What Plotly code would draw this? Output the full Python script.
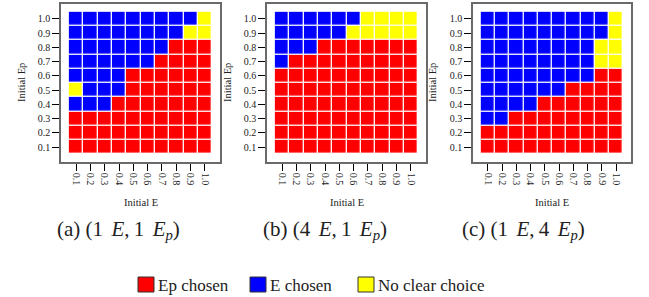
import plotly.graph_objects as go

W, H = 649, 297

e_values = [0.1, 0.2, 0.3, 0.4, 0.5, 0.6, 0.7, 0.8, 0.9, 1.0]
ep_values = [0.1, 0.2, 0.3, 0.4, 0.5, 0.6, 0.7, 0.8, 0.9, 1.0]
tick_labels = ["0.1", "0.2", "0.3", "0.4", "0.5", "0.6", "0.7", "0.8", "0.9", "1.0"]

# codes: R = Ep chosen, B = E chosen, Y = no clear choice ; rows listed from Ep=1.0 down to Ep=0.1
grid_a = [
    "BBBBBBBBBY",
    "BBBBBBBBYY",
    "BBBBBBBRRR",
    "BBBBBBRRRR",
    "BBBBRRRRRR",
    "YBBBRRRRRR",
    "BBBRRRRRRR",
    "RRRRRRRRRR",
    "RRRRRRRRRR",
    "RRRRRRRRRR",
]
grid_b = [
    "BBBBBBYYYY",
    "BBBBBYYYYY",
    "BBBRRRRRRR",
    "BRRRRRRRRR",
    "RRRRRRRRRR",
    "RRRRRRRRRR",
    "RRRRRRRRRR",
    "RRRRRRRRRR",
    "RRRRRRRRRR",
    "RRRRRRRRRR",
]
grid_c = [
    "BBBBBBBBBY",
    "BBBBBBBBBY",
    "BBBBBBBBYY",
    "BBBBBBBBYY",
    "BBBBBBBBRR",
    "BBBBBBRRRR",
    "BBBBRRRRRR",
    "BBRRRRRRRR",
    "RRRRRRRRRR",
    "RRRRRRRRRR",
]
captions = ["(a) (1\u2009\u2009<i>E</i>,\u20091\u2009\u2009<i>E<sub>p</sub></i>)",
            "(b) (4\u2009\u2009<i>E</i>,\u20091\u2009\u2009<i>E<sub>p</sub></i>)",
            "(c) (1\u2009\u2009<i>E</i>,\u20094\u2009\u2009<i>E<sub>p</sub></i>)"]
legend_labels = ["Ep chosen", "E chosen", "No clear choice"]
legend_colors = ["#FF0000", "#0000FF", "#FFFF00"]

code = {"R": 0, "B": 1, "Y": 2}
colorscale = [[0, "#FF0000"], [1/3, "#FF0000"], [1/3, "#0000FF"], [2/3, "#0000FF"],
              [2/3, "#FFFF00"], [1, "#FFFF00"]]

# pixel layout
frames_x = [(61, 220), (267, 426), (473, 631)]
frame_top, frame_bot = 4, 162
ytitle_x = [22, 228, 433]
caption_x = [118, 325, 523]

def px(x):
    return x / W

def py(y):
    return 1 - y / H

fig = go.Figure()
font_serif = "Liberation Serif"

for i, grid in enumerate([grid_a, grid_b, grid_c]):
    z = [[code[c] for c in row] for row in reversed(grid)]
    xa = "x" if i == 0 else f"x{i+1}"
    ya = "y" if i == 0 else f"y{i+1}"
    fig.add_trace(go.Heatmap(
        x=e_values, y=ep_values, z=z, xaxis=xa, yaxis=ya,
        colorscale=colorscale, zmin=0, zmax=2, showscale=False,
        xgap=1.3, ygap=1.3, hoverinfo="skip"))
    axcommon = dict(range=[-0.005, 1.105], tickvals=e_values, ticktext=tick_labels,
                    showgrid=False, zeroline=False, showline=True, mirror=True,
                    linecolor="#6a6a6a", linewidth=1.6, ticks="outside", ticklen=7,
                    tickcolor="black", tickwidth=1,
                    tickfont=dict(family=font_serif, size=10, color="#222"))
    x0, x1 = frames_x[i]
    xname = "xaxis" if i == 0 else f"xaxis{i+1}"
    yname = "yaxis" if i == 0 else f"yaxis{i+1}"
    fig.layout[xname] = dict(axcommon, domain=[px(x0), px(x1)], anchor=ya, tickangle=90)
    fig.layout[yname] = dict(axcommon, domain=[py(frame_bot), py(frame_top)], anchor=xa)
    # axis titles
    fig.add_annotation(x=px((x0 + x1) / 2), y=py(202), xref="paper", yref="paper",
                       text="Initial E", showarrow=False, xanchor="center", yanchor="middle",
                       font=dict(family=font_serif, size=10.5, color="#222"))
    fig.add_annotation(x=px(ytitle_x[i]), y=py((frame_top + frame_bot) / 2), xref="paper", yref="paper",
                       text="Initial Ep", showarrow=False, textangle=-90,
                       xanchor="center", yanchor="middle",
                       font=dict(family=font_serif, size=10.5, color="#222"))
    fig.add_annotation(x=px(caption_x[i]), y=py(230), xref="paper", yref="paper",
                       text=captions[i], showarrow=False, xanchor="center", yanchor="middle",
                       font=dict(family=font_serif, size=21, color="#222"))

# legend
box_x = [138, 250, 358]
for bx, lab, col in zip(box_x, legend_labels, legend_colors):
    fig.add_shape(type="rect", xref="paper", yref="paper",
                  x0=px(bx), x1=px(bx + 16), y0=py(292), y1=py(277),
                  fillcolor=col, line=dict(color="#333", width=1))
    fig.add_annotation(x=px(bx + 18), y=py(285), xref="paper", yref="paper",
                       text=lab, showarrow=False, xanchor="left", yanchor="middle",
                       font=dict(family=font_serif, size=17, color="#222"))

fig.update_layout(width=W, height=H, margin=dict(l=0, r=0, t=0, b=0),
                  paper_bgcolor="white", plot_bgcolor="white", showlegend=False)

fig.write_html("out.html", config={"displayModeBar": False},
               post_script="document.body.style.margin='0';")
